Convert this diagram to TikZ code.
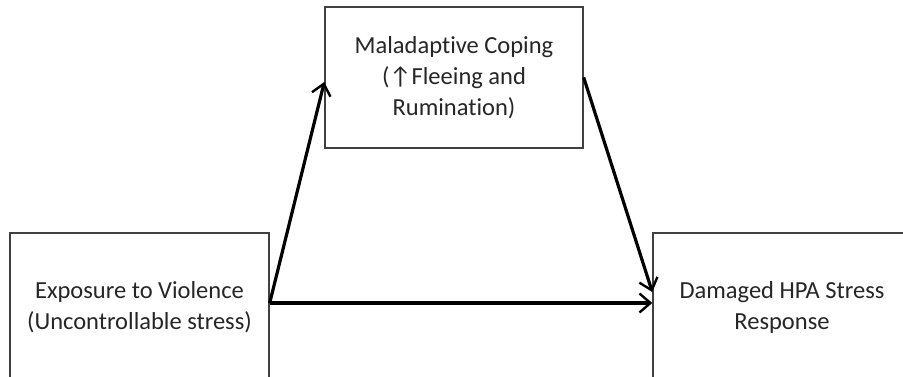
\documentclass[tikz,border=0pt]{standalone}
\usepackage{fontspec}
\setmainfont{Carlito}[Ligatures=NoCommon]
\usetikzlibrary{arrows.meta}
\begin{document}
\begin{tikzpicture}[x=1pt,y=-1pt,
  box/.style={draw=black!75,line width=1.4pt,fill=white,align=center,
    font=\fontsize{24.5}{31}\selectfont,text=black!85,inner sep=0pt},
  conn/.style={line width=3.2pt,-{Straight Barb[length=11pt,width=19pt,line width=2.4pt]}}]
\useasboundingbox (0,0) rectangle (903,377);
\fill[white] (0,0) rectangle (903,377);
\node[box,minimum width=258pt,minimum height=141pt] (M) at (454,77.5)
  {Maladaptive Coping\\(↑Fleeing and\\Rumination)};
\node[box,minimum width=259pt,minimum height=148pt] (E) at (139.5,307)
  {Exposure to Violence\\(Uncontrollable stress)};
\node[box,minimum width=258pt,minimum height=148pt] (D) at (782,307)
  {Damaged HPA Stress\\Response};
\draw[conn] ([yshift=4pt]E.east) -- ([yshift=-4.5pt]M.west);
\draw[conn] ([yshift=4pt]E.east) -- ([yshift=4pt]D.west);
\draw[conn] (M.east) -- ([yshift=15pt]D.west);
\end{tikzpicture}
\end{document}
